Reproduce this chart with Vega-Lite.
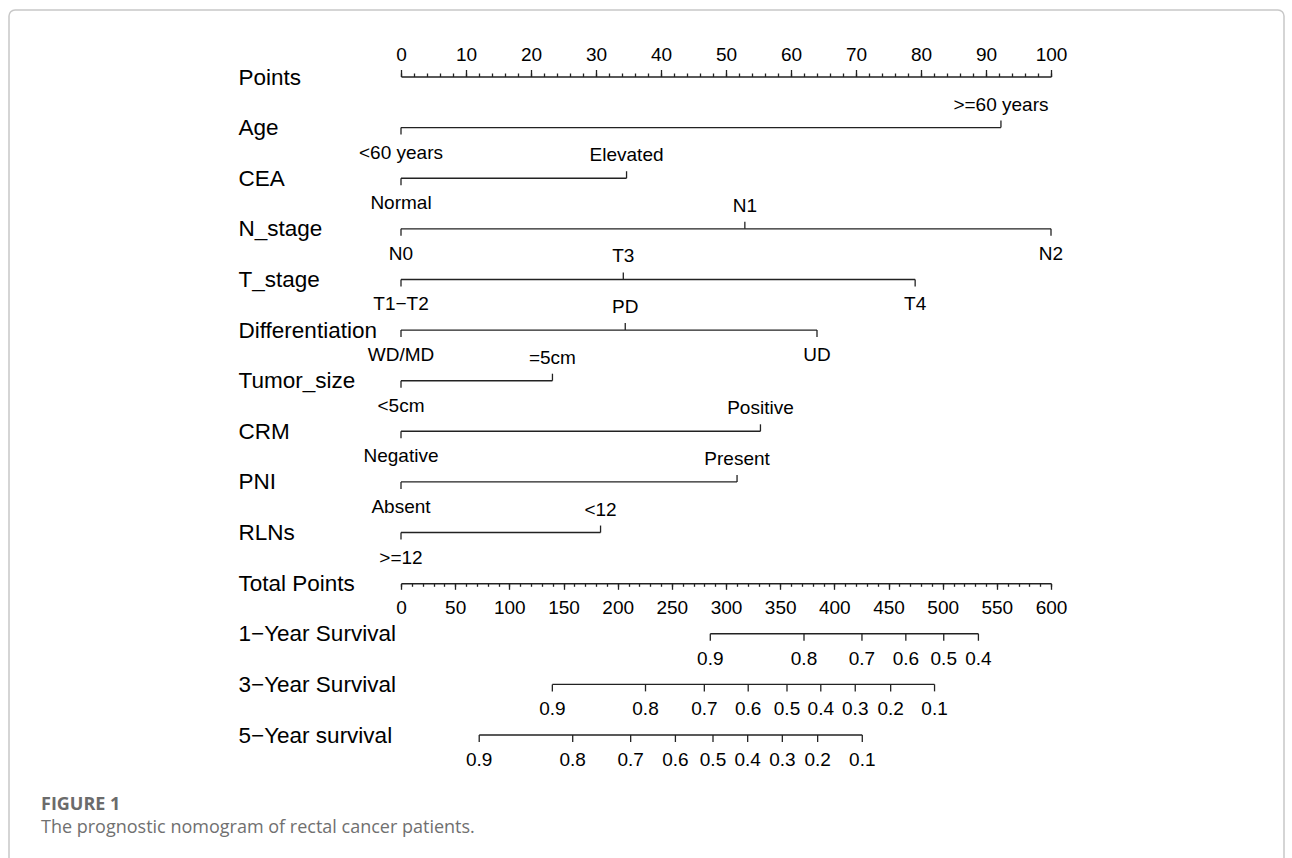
{
  "$schema": "https://vega.github.io/schema/vega-lite/v6.json",
  "width": 1275,
  "height": 858,
  "autosize": {"type": "none"},
  "padding": {"left": 9, "top": 10, "right": 8, "bottom": 0},
  "background": "white",
  "usermeta": {"embedOptions": {"actions": false}},
  "title": {
    "text": "FIGURE 1",
    "subtitle": "The prognostic nomogram of rectal cancer patients.",
    "orient": "top",
    "anchor": "start",
    "frame": "group",
    "dx": 32,
    "dy": 831,
    "font": "Open Sans",
    "fontSize": 18,
    "fontWeight": "bold",
    "color": "#6b6b6b",
    "subtitleFont": "Open Sans",
    "subtitleFontSize": 18,
    "subtitleColor": "#707070",
    "subtitlePadding": 5
  },
  "config": {
    "view": {"stroke": "#c8c8c8", "strokeWidth": 1.5, "cornerRadius": 6},
    "text": {"font": "Liberation Sans"}
  },
  "resolve": {"scale": {"x": "independent"}},
  "encoding": {
    "y": {"field": "row", "type": "nominal",
          "scale": {"type": "point", "padding": 0, "domain": ["Points","Age","CEA","N_stage","T_stage","Differentiation","Tumor_size","CRM","PNI","RLNs","Total Points","1−Year Survival","3−Year Survival","5−Year survival"], "range": [67, 725]},
          "axis": {"orient": "left", "domain": false, "ticks": false, "tickSize": 0, "grid": false, "title": null,
                   "labelAlign": "left", "labelBaseline": "middle", "labelPadding": -229,
                   "labelFont": "Liberation Sans", "labelFontSize": 22.5, "labelColor": "#000",
                   "labelLimit": 400, "labelOverlap": false}}
  },
  "layer": [
    {
      "data": {"values": [
        {"row": "Age", "level": "<60 years", "points": 0, "side": "below"},
        {"row": "Age", "level": ">=60 years", "points": 92.3, "side": "above"},
        {"row": "CEA", "level": "Normal", "points": 0, "side": "below"},
        {"row": "CEA", "level": "Elevated", "points": 34.7, "side": "above"},
        {"row": "N_stage", "level": "N0", "points": 0, "side": "below"},
        {"row": "N_stage", "level": "N1", "points": 52.9, "side": "above"},
        {"row": "N_stage", "level": "N2", "points": 100, "side": "below"},
        {"row": "T_stage", "level": "T1−T2", "points": 0, "side": "below"},
        {"row": "T_stage", "level": "T3", "points": 34.2, "side": "above"},
        {"row": "T_stage", "level": "T4", "points": 79.1, "side": "below"},
        {"row": "Differentiation", "level": "WD/MD", "points": 0, "side": "below"},
        {"row": "Differentiation", "level": "PD", "points": 34.5, "side": "above"},
        {"row": "Differentiation", "level": "UD", "points": 64.0, "side": "below"},
        {"row": "Tumor_size", "level": "<5cm", "points": 0, "side": "below"},
        {"row": "Tumor_size", "level": "=5cm", "points": 23.3, "side": "above"},
        {"row": "CRM", "level": "Negative", "points": 0, "side": "below"},
        {"row": "CRM", "level": "Positive", "points": 55.3, "side": "above"},
        {"row": "PNI", "level": "Absent", "points": 0, "side": "below"},
        {"row": "PNI", "level": "Present", "points": 51.7, "side": "above"},
        {"row": "RLNs", "level": ">=12", "points": 0, "side": "below"},
        {"row": "RLNs", "level": "<12", "points": 30.7, "side": "above"}
      ]},
      "resolve": {"axis": {"x": "independent"}},
      "layer": [
        {
          "mark": {"type": "rule", "color": "#222", "strokeWidth": 1.4},
          "encoding": {
            "x": {"aggregate": "min", "field": "points", "type": "quantitative",
                  "scale": {"domain": [0, 100], "range": [392, 1042]},
                  "axis": {"orient": "top", "offset": -66.5, "values": [0,10,20,30,40,50,60,70,80,90,100],
                           "tickSize": 7, "tickColor": "#222", "tickWidth": 1.3,
                           "domain": true, "domainColor": "#222", "domainWidth": 1.4,
                           "labelFont": "Liberation Sans", "labelFontSize": 19, "labelColor": "#000",
                           "labelPadding": 15.5, "labelBaseline": "middle", "labelFlush": false,
                           "labelOverlap": false, "grid": false, "title": null}},
            "x2": {"aggregate": "max", "field": "points"}
          }
        },
        {
          "transform": [{"filter": "datum.side === 'above'"}],
          "mark": {"type": "rule", "color": "#222", "strokeWidth": 1.3, "y2Offset": -7},
          "encoding": {
            "x": {"field": "points", "type": "quantitative",
                  "scale": {"domain": [0, 100], "range": [392, 1042]},
                  "axis": {"orient": "top", "offset": -66.5, "values": [0,2,4,6,8,10,12,14,16,18,20,22,24,26,28,30,32,34,36,38,40,42,44,46,48,50,52,54,56,58,60,62,64,66,68,70,72,74,76,78,80,82,84,86,88,90,92,94,96,98,100],
                           "tickSize": 3.5, "tickColor": "#222", "tickWidth": 1.3, "labels": false,
                           "domain": false, "grid": false, "title": null}},
            "y2": {"field": "row"}
          }
        },
        {
          "transform": [{"filter": "datum.side === 'below'"}],
          "mark": {"type": "rule", "color": "#222", "strokeWidth": 1.3, "y2Offset": 7},
          "encoding": {
            "x": {"field": "points", "type": "quantitative", "axis": null},
            "y2": {"field": "row"}
          }
        },
        {
          "transform": [{"filter": "datum.side === 'above'"}],
          "mark": {"type": "text", "fontSize": 19, "font": "Liberation Sans", "color": "#000", "align": "center", "baseline": "middle", "dy": -23},
          "encoding": {
            "x": {"field": "points", "type": "quantitative", "axis": null},
            "text": {"field": "level"}
          }
        },
        {
          "transform": [{"filter": "datum.side === 'below'"}],
          "mark": {"type": "text", "fontSize": 19, "font": "Liberation Sans", "color": "#000", "align": "center", "baseline": "middle", "dy": 25},
          "encoding": {
            "x": {"field": "points", "type": "quantitative", "axis": null},
            "text": {"field": "level"}
          }
        }
      ]
    },
    {
      "data": {"values": [
        {"row": "1−Year Survival", "prob": 0.9, "total": 285.5},
        {"row": "1−Year Survival", "prob": 0.8, "total": 372},
        {"row": "1−Year Survival", "prob": 0.7, "total": 425.5},
        {"row": "1−Year Survival", "prob": 0.6, "total": 466},
        {"row": "1−Year Survival", "prob": 0.5, "total": 501},
        {"row": "1−Year Survival", "prob": 0.4, "total": 533},
        {"row": "3−Year Survival", "prob": 0.9, "total": 139.7},
        {"row": "3−Year Survival", "prob": 0.8, "total": 225.7},
        {"row": "3−Year Survival", "prob": 0.7, "total": 280},
        {"row": "3−Year Survival", "prob": 0.6, "total": 320.5},
        {"row": "3−Year Survival", "prob": 0.5, "total": 356.3},
        {"row": "3−Year Survival", "prob": 0.4, "total": 387.5},
        {"row": "3−Year Survival", "prob": 0.3, "total": 419.3},
        {"row": "3−Year Survival", "prob": 0.2, "total": 452},
        {"row": "3−Year Survival", "prob": 0.1, "total": 492.5},
        {"row": "5−Year survival", "prob": 0.9, "total": 72.2},
        {"row": "5−Year survival", "prob": 0.8, "total": 158.5},
        {"row": "5−Year survival", "prob": 0.7, "total": 212},
        {"row": "5−Year survival", "prob": 0.6, "total": 253.3},
        {"row": "5−Year survival", "prob": 0.5, "total": 288},
        {"row": "5−Year survival", "prob": 0.4, "total": 320},
        {"row": "5−Year survival", "prob": 0.3, "total": 352},
        {"row": "5−Year survival", "prob": 0.2, "total": 384.6},
        {"row": "5−Year survival", "prob": 0.1, "total": 425.8}
      ]},
      "resolve": {"axis": {"x": "independent"}},
      "layer": [
        {
          "mark": {"type": "rule", "color": "#222", "strokeWidth": 1.4},
          "encoding": {
            "x": {"aggregate": "min", "field": "total", "type": "quantitative",
                  "scale": {"domain": [0, 600], "range": [392, 1042]},
                  "axis": {"orient": "bottom", "offset": -284.7, "values": [0,50,100,150,200,250,300,350,400,450,500,550,600],
                           "tickSize": 6, "tickColor": "#222", "tickWidth": 1.3,
                           "domain": true, "domainColor": "#222", "domainWidth": 1.4,
                           "labelFont": "Liberation Sans", "labelFontSize": 19, "labelColor": "#000",
                           "labelPadding": 18, "labelBaseline": "middle", "labelFlush": false,
                           "labelOverlap": false, "grid": false, "title": null}},
            "x2": {"aggregate": "max", "field": "total"}
          }
        },
        {
          "mark": {"type": "rule", "color": "#222", "strokeWidth": 1.3, "y2Offset": 7},
          "encoding": {
            "x": {"field": "total", "type": "quantitative",
                  "scale": {"domain": [0, 600], "range": [392, 1042]},
                  "axis": {"orient": "bottom", "offset": -284.7, "values": [0,10,20,30,40,50,60,70,80,90,100,110,120,130,140,150,160,170,180,190,200,210,220,230,240,250,260,270,280,290,300,310,320,330,340,350,360,370,380,390,400,410,420,430,440,450,460,470,480,490,500,510,520,530,540,550,560,570,580,590,600],
                           "tickSize": 3, "tickColor": "#222", "tickWidth": 1.3, "labels": false,
                           "domain": false, "grid": false, "title": null}},
            "y2": {"field": "row"}
          }
        },
        {
          "mark": {"type": "text", "fontSize": 19, "font": "Liberation Sans", "color": "#000", "align": "center", "baseline": "middle", "dy": 25},
          "encoding": {
            "x": {"field": "total", "type": "quantitative", "axis": null},
            "text": {"field": "prob", "type": "quantitative", "format": ".1f"}
          }
        }
      ]
    }
  ]
}
